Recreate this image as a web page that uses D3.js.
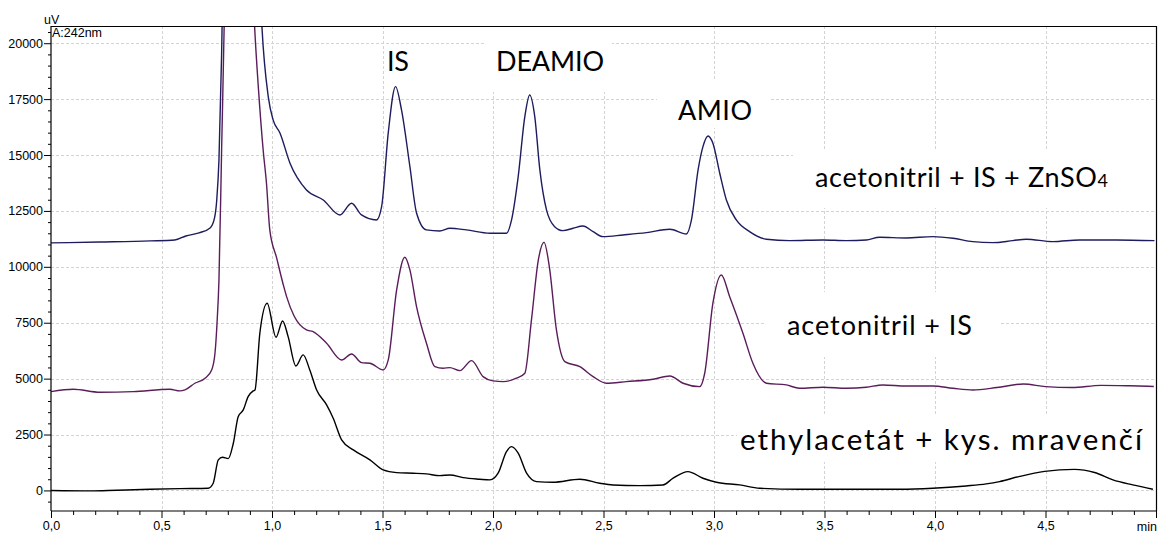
<!DOCTYPE html>
<html><head><meta charset="utf-8">
<script src="https://cdn.jsdelivr.net/npm/d3@7"></script>
<style>body{margin:0;background:#fff}svg{display:block}</style>
</head><body><svg id="c" width="1158" height="533"></svg>
<script>
// ---- data ----
const xTickValues = [0, 0.5, 1.0, 1.5, 2.0, 2.5, 3.0, 3.5, 4.0, 4.5];
const xTickLabels = ["0,0","0,5","1,0","1,5","2,0","2,5","3,0","3,5","4,0","4,5"];
const yTickValues = [0, 2500, 5000, 7500, 10000, 12500, 15000, 17500, 20000];
const yTickLabels = ["0","2500","5000","7500","10000","12500","15000","17500","20000"];

const seriesNames = ["acetonitril + IS + ZnSO4", "acetonitril + IS", "ethylacetát + kys. mravenčí"];

const tZn = [0,0.22,0.45,0.56,0.61,0.67,0.72,0.74,0.75,0.76,0.772,0.79,0.82,0.86,0.90,0.93,0.953,0.983,1.005,1.036,1.081,1.156,1.232,1.307,1.360,1.405,1.473,1.496,1.526,1.559,1.586,1.624,1.654,1.699,1.759,1.805,1.880,1.986,2.061,2.084,2.114,2.144,2.166,2.189,2.212,2.242,2.279,2.317,2.362,2.407,2.453,2.498,2.588,2.694,2.800,2.875,2.898,2.928,2.950,2.973,2.995,3.026,3.056,3.101,3.161,3.237,3.342,3.493,3.599,3.689,3.749,3.870,3.990,4.081,4.171,4.262,4.352,4.413,4.533,4.654,4.820,4.993];
const vZn = [11070,11110,11160,11200,11380,11520,11740,12190,12990,14780,19500,30000,42000,45000,36000,27000,21000,17611,16569,15988,14646,13438,12991,12320,12844,12320,12097,12692,15988,18058,17016,14480,12410,11650,11605,11726,11650,11502,11502,12097,14033,16716,17687,16716,14333,12544,11797,11618,11726,11829,11573,11350,11426,11529,11681,11471,12097,14333,15375,15853,15527,14185,12991,12097,11573,11234,11171,11202,11171,11202,11323,11292,11350,11279,11127,11082,11171,11234,11127,11202,11202,11171];

const tIS = [0,0.101,0.222,0.372,0.538,0.583,0.606,0.651,0.697,0.727,0.742,0.752,0.760,0.772,0.784,0.80,0.84,0.88,0.92,0.938,0.960,0.975,0.990,1.021,1.051,1.066,1.10,1.156,1.186,1.247,1.315,1.360,1.405,1.443,1.503,1.526,1.564,1.601,1.624,1.654,1.699,1.737,1.774,1.805,1.850,1.903,1.955,2.000,2.046,2.106,2.144,2.174,2.205,2.231,2.255,2.287,2.325,2.393,2.453,2.513,2.604,2.724,2.800,2.860,2.935,2.958,2.995,3.033,3.071,3.131,3.176,3.237,3.327,3.387,3.493,3.599,3.689,3.764,3.870,3.990,4.081,4.171,4.28,4.40,4.50,4.62,4.75,4.88,4.99];
const vIS = [4418,4526,4392,4418,4526,4450,4494,4794,5018,5389,6136,7625,9414,15220,21000,32000,40000,33000,21000,18058,15227,13738,11650,10400,9200,8667,7800,7178,7102,6583,5836,6104,5715,5689,5389,5836,8966,10429,9861,8220,6583,5536,5465,5492,5358,5805,5089,4897,4866,5018,5241,7625,10300,11100,10000,7178,5760,5536,5089,4794,4866,4973,5120,4794,4642,5241,8372,9637,8667,7030,5689,4794,4718,4570,4615,4570,4615,4718,4673,4673,4570,4494,4600,4760,4640,4600,4700,4680,4650];

const tEA = [0,0.176,0.297,0.448,0.583,0.711,0.734,0.757,0.776,0.802,0.825,0.847,0.870,0.892,0.915,0.923,0.945,0.978,1.018,1.048,1.073,1.108,1.141,1.171,1.202,1.247,1.277,1.315,1.368,1.443,1.503,1.564,1.639,1.699,1.759,1.805,1.865,1.940,1.986,2.023,2.061,2.084,2.114,2.152,2.197,2.272,2.393,2.483,2.543,2.664,2.769,2.815,2.882,2.950,3.011,3.116,3.207,3.387,3.840,3.990,4.141,4.232,4.292,4.383,4.496,4.631,4.722,4.805,4.895,4.986];
const vEA = [0,-20,10,50,80,98,322,1364,1485,1422,2111,3300,3600,4195,4450,4494,7030,8372,6851,7580,6878,5568,6060,5389,4494,3824,3229,2258,1811,1364,917,796,769,738,662,690,572,501,470,769,1735,1959,1664,769,394,367,501,322,246,215,246,546,841,546,367,246,98,54,54,98,201,291,394,626,850,940,800,470,246,54];

const seriesColors = ["#1c1c5e", "#5a1d5a", "#000000"];

// ---- chart ----
const svg = d3.select("#c");
const L = 51, R = 1156, T = 26, B = 511;
const x = d3.scaleLinear().domain([0, 5]).range([L, R]);
const y = d3.scaleLinear().domain([-920, 20770]).range([B, T]);
const axisFont = "'Liberation Sans', Arial, sans-serif";

// grid
const grid = svg.append("g").attr("stroke", "#d4d4d4").attr("stroke-width", 1).attr("stroke-dasharray", "3,2").attr("shape-rendering", "crispEdges");
grid.selectAll("line.v").data(xTickValues.filter(d => d > 0)).join("line")
  .attr("x1", d => Math.round(x(d)) + 0.5).attr("x2", d => Math.round(x(d)) + 0.5).attr("y1", T).attr("y2", B);
grid.selectAll("line.h").data(yTickValues).join("line")
  .attr("y1", d => Math.round(y(d)) + 0.5).attr("y2", d => Math.round(y(d)) + 0.5).attr("x1", L).attr("x2", R);

// white label boxes (cover grid like the original text boxes)
const boxes = [
  {x0: 485, x1: 612, y0: 27, y1: 92},
  {x0: 657, x1: 770, y0: 80, y1: 128},
  {x0: 793, x1: 1155, y0: 150, y1: 208},
  {x0: 765, x1: 1000, y0: 292, y1: 357},
  {x0: 737, x1: 1155, y0: 416, y1: 462}
];
svg.append("g").selectAll("rect").data(boxes).join("rect")
  .attr("x", d => d.x0).attr("y", d => d.y0).attr("width", d => d.x1 - d.x0).attr("height", d => d.y1 - d.y0)
  .attr("fill", "#fff");

// traces
svg.append("clipPath").attr("id", "clip").append("rect").attr("x", L).attr("y", T).attr("width", R - L).attr("height", B - T);
const line = d3.line().x(d => x(d[0])).y(d => y(d[1])).curve(d3.curveMonotoneX);
const series = [d3.zip(tZn, vZn), d3.zip(tIS, vIS), d3.zip(tEA, vEA)];
const tg = svg.append("g").attr("clip-path", "url(#clip)");
[2, 1, 0].forEach(i => {
  tg.append("path").datum(series[i]).attr("d", line).attr("fill", "none")
    .attr("stroke", seriesColors[i]).attr("stroke-width", 1.4).attr("stroke-linejoin", "round");
});

// frame (top & right)
svg.append("path").attr("d", `M${L},${T + 0.5}H${R + 0.5}V${B}`).attr("fill", "none").attr("stroke", "#000").attr("stroke-width", 1.2);

// y axis
const yMinor = d3.range(-500, 20501, 500).filter(d => d % 2500 !== 0);
const yAx = svg.append("g").attr("transform", `translate(${L},0)`);
yAx.call(d3.axisLeft(y).tickValues(yMinor).tickSize(3).tickSizeOuter(0).tickFormat(""));
yAx.select(".domain").remove();
const yMaj = svg.append("g").attr("transform", `translate(${L},0)`)
  .call(d3.axisLeft(y).tickValues(yTickValues).tickSize(7).tickSizeOuter(0).tickPadding(1)
    .tickFormat((d, i) => yTickLabels[i]));
yMaj.select(".domain").attr("d", `M0,${T}V${B}`).attr("stroke-width", 1.2);
svg.selectAll("g.tick text").attr("font-family", axisFont).attr("font-size", 12.5).attr("fill", "#000");

// x axis
const xMinor = d3.range(0, 51).map(i => i / 10).filter(d => Math.abs(d * 2 - Math.round(d * 2)) > 1e-6);
const xAx = svg.append("g").attr("transform", `translate(0,${B})`);
xAx.call(d3.axisBottom(x).tickValues(xMinor).tickSize(4).tickSizeOuter(0).tickFormat(""));
xAx.select(".domain").remove();
const xMaj = svg.append("g").attr("transform", `translate(0,${B})`)
  .call(d3.axisBottom(x).tickValues(xTickValues.concat([5.0])).tickSize(7).tickSizeOuter(0).tickPadding(3)
    .tickFormat((d, i) => i < xTickLabels.length ? xTickLabels[i] : ""));
xMaj.select(".domain").attr("d", `M${L},0H${R}`).attr("stroke-width", 1.2);
xMaj.selectAll("text").attr("font-family", axisFont).attr("font-size", 12.5).attr("fill", "#000");
svg.selectAll(".tick line").attr("stroke", "#000");

svg.append("text").attr("x", 1157).attr("y", 531).attr("text-anchor", "end")
  .attr("font-family", axisFont).attr("font-size", 12.5).text("min");
svg.append("text").attr("x", 44).attr("y", 24).attr("font-family", axisFont).attr("font-size", 12.5).text("uV");
svg.append("text").attr("x", 52).attr("y", 37).attr("font-family", axisFont).attr("font-size", 12.5).text("A:242nm");

// annotations
const annFont = "Lato, 'Open Sans', sans-serif";
const ann = [
  {t: "IS", x: 387, y: 71, w: 22, fs: 27},
  {t: "DEAMIO", x: 496, y: 71, w: 108, fs: 27},
  {t: "AMIO", x: 678, y: 120, w: 74, fs: 27},
  {t: "acetonitril + IS", x: 787, y: 335, w: 185, fs: 27},
  {t: "ethylacetát + kys. mravenčí", x: 740, y: 450, w: 402, fs: 29.5}
];
svg.append("g").selectAll("text").data(ann).join("text")
  .attr("x", d => d.x).attr("y", d => d.y).attr("font-family", annFont).attr("font-size", d => d.fs)
  .attr("textLength", d => d.w).attr("lengthAdjust", "spacing")
  .attr("fill", "#000").text(d => d.t);
const zn = svg.append("text").attr("x", 815).attr("y", 187).attr("font-family", annFont).attr("font-size", 27)
  .attr("textLength", 293).attr("lengthAdjust", "spacing").attr("fill", "#000");
zn.append("tspan").text("acetonitril + IS + ZnSO");
zn.append("tspan").attr("font-size", 18).text("4");
</script></body></html>
